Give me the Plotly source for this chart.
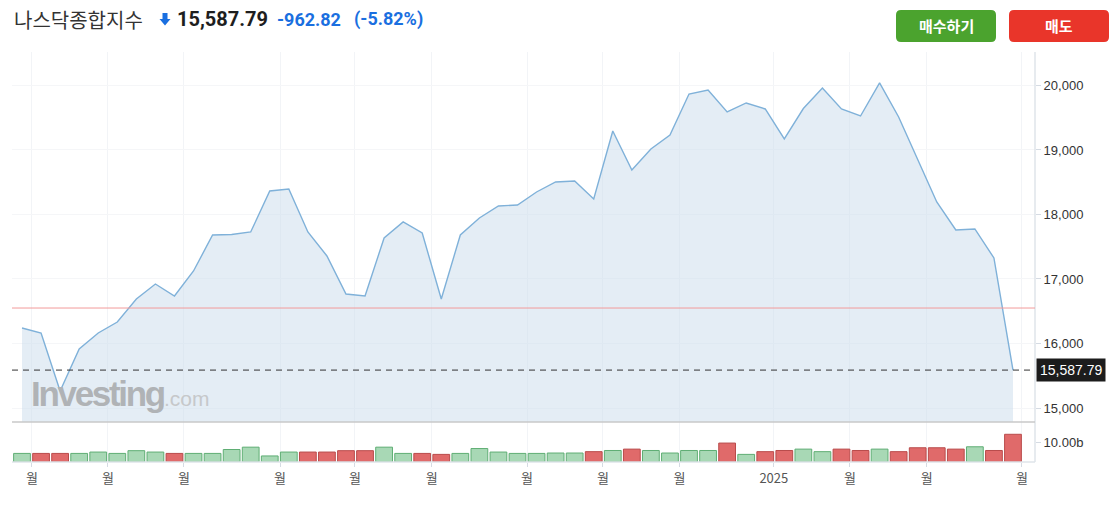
import plotly.graph_objects as go

# ---------------- data ----------------
week_index = list(range(53))
close = [16240, 16163, 15263, 15915, 16163, 16333, 16690, 16922, 16736, 17124,
         17682, 17690, 17729, 18364, 18395, 17729, 17357, 16767, 16736, 17636,
         17884, 17713, 16690, 17682, 17946, 18132, 18147, 18349, 18504, 18520,
         18240, 19295, 18690, 19016, 19233, 19868, 19930, 19589, 19729, 19636,
         19171, 19643, 19961, 19636, 19527, 20039, 19512, 18845, 18194, 17760,
         17776, 17326, 15587.79]
volume_b = [4.4, 4.4, 4.4, 4.4, 5.1, 4.4, 5.8, 5.1, 4.4, 4.4,
            4.4, 6.4, 7.6, 3.1, 5.1, 5.1, 5.1, 5.8, 5.8, 7.6,
            4.4, 4.4, 3.9, 4.4, 6.9, 5.1, 4.4, 4.4, 4.6, 4.6,
            5.3, 5.9, 6.6, 5.9, 4.6, 5.9, 5.9, 9.7, 3.9, 5.3,
            5.9, 6.6, 5.3, 6.6, 5.9, 6.6, 5.3, 7.3, 7.3, 6.6,
            7.8, 5.9, 14.2]
price_ticks = [15000, 16000, 17000, 18000, 19000, 20000]
price_tick_text = ["15,000", "16,000", "17,000", "18,000", "19,000", "20,000"]
month_tick_pos = [0.52, 4.51, 8.5, 13.54, 17.47, 21.5, 26.5, 30.48, 34.5, 39.45, 43.44, 47.48, 52.47]
month_tick_text = ["월", "월", "월", "월", "월", "월", "월", "월", "월", "2025", "월", "월", "월"]
reference_level = 16550
last_price = 15587.79
title_name = "나스닥종합지수"
title_price = "15,587.79"
title_change = "-962.82"
title_change_pct = "(-5.82%)"

# ---------------- geometry (screen pixels; body margin is removed below) ----------------
W, H = 1117, 510
L, R, T, B = 12, 1035, 52, 462          # plot area in screen pixels
PW, PH = R - L, B - T


def fx(px):
    return (px - L) / PW


def fy(py):
    return (B - py) / PH


sep_frac = fy(422)

up_fill, up_line = "#a8d8b5", "#5fae74"
dn_fill, dn_line = "#e06a6a", "#b94b4b"
fills, lines = [], []
for i, v in enumerate(close):
    up = i == 0 or v >= close[i - 1]
    fills.append(up_fill if up else dn_fill)
    lines.append(up_line if up else dn_line)

fig = go.Figure()
fig.add_trace(go.Scatter(
    x=week_index, y=close, mode="lines",
    line=dict(color="#7fb1d9", width=1.4),
    fill="tozeroy", fillcolor="rgba(201,219,235,0.5)",
    hoverinfo="skip", xaxis="x", yaxis="y"))
fig.add_trace(go.Bar(
    x=week_index, y=volume_b,
    marker=dict(color=fills, line=dict(color=lines, width=1)),
    hoverinfo="skip", xaxis="x", yaxis="y2"))

grid = "#f2f4f7"
fig.update_layout(
    width=W, height=H,
    margin=dict(l=L, r=W - R, t=T, b=H - B),
    paper_bgcolor="white", plot_bgcolor="white",
    showlegend=False, bargap=0.12,
    xaxis=dict(range=[-0.525, 53.155], anchor="y2",
               tickmode="array", tickvals=month_tick_pos, ticktext=month_tick_text,
               showgrid=True, gridcolor=grid, gridwidth=1,
               ticks="outside", ticklen=4, tickcolor="#d5dbe3",
               showline=False, zeroline=False,
               tickfont=dict(family="Noto Sans CJK KR", size=13, color="#555")),
    yaxis=dict(domain=[sep_frac, 1], range=[14783, 20519], side="right",
               tickmode="array", tickvals=price_ticks, ticktext=price_tick_text,
               showgrid=True, gridcolor="#f5f6f8", zeroline=False,
               ticks="outside", ticklen=5, tickcolor="#d5dbe3",
               tickfont=dict(family="Liberation Sans", size=13, color="#333")),
    yaxis2=dict(domain=[0, sep_frac], range=[0, 20.5], side="right",
                tickmode="array", tickvals=[10], ticktext=["10.00b"],
                showgrid=False, zeroline=False,
                ticks="outside", ticklen=5, tickcolor="#d5dbe3",
                tickfont=dict(family="Liberation Sans", size=13, color="#333")),
)

shapes = []
shapes.append(dict(type="line", xref="paper", yref="paper", x0=1, x1=1, y0=0, y1=1,
                   line=dict(color="#dfe4ea", width=1.5)))
shapes.append(dict(type="line", xref="paper", yref="paper", x0=0, x1=1, y0=0, y1=0,
                   line=dict(color="#dfe4ea", width=1.5)))
shapes.append(dict(type="line", xref="paper", yref="paper", x0=0, x1=1, y0=sep_frac, y1=sep_frac,
                   line=dict(color="#c9c9c9", width=1.5)))
shapes.append(dict(type="line", xref="paper", yref="y", x0=0, x1=1,
                   y0=reference_level, y1=reference_level,
                   line=dict(color="#f29a9a", width=1)))
shapes.append(dict(type="line", xref="paper", yref="y", x0=0, x1=1,
                   y0=last_price, y1=last_price,
                   line=dict(color="#333333", width=1, dash="6px,5px")))


def rounded(x0, y0, x1, y1, r):
    a, b_, c, d = fx(x0), fx(x1), fy(y0), fy(y1)
    rx, ry = r / PW, r / PH
    return (f"M {a+rx},{c} L {b_-rx},{c} Q {b_},{c} {b_},{c-ry} "
            f"L {b_},{d+ry} Q {b_},{d} {b_-rx},{d} L {a+rx},{d} "
            f"Q {a},{d} {a},{d+ry} L {a},{c-ry} Q {a},{c} {a+rx},{c} Z")


shapes.append(dict(type="path", xref="paper", yref="paper",
                   path=rounded(896, 10, 996, 42, 5),
                   fillcolor="#4ba32e", line=dict(width=0)))
shapes.append(dict(type="path", xref="paper", yref="paper",
                   path=rounded(1009, 10, 1109, 42, 5),
                   fillcolor="#e9352a", line=dict(width=0)))
arrow = (f"M {fx(162.5)},{fy(13)} L {fx(167.5)},{fy(13)} L {fx(167.5)},{fy(19)} "
         f"L {fx(170.5)},{fy(19)} L {fx(165)},{fy(25.5)} L {fx(159.5)},{fy(19)} "
         f"L {fx(162.5)},{fy(19)} Z")
shapes.append(dict(type="path", xref="paper", yref="paper", path=arrow,
                   fillcolor="#1a6fe0", line=dict(width=0)))
fig.update_layout(shapes=shapes)

ann = []
ann.append(dict(xref="paper", yref="paper", x=fx(12), y=fy(19.5), xanchor="left", yanchor="middle",
                text=title_name, showarrow=False,
                font=dict(family="Noto Sans CJK KR", size=20, color="#333")))
ann.append(dict(xref="paper", yref="paper", x=fx(175), y=fy(19.5), xanchor="left", yanchor="middle",
                text="<b>" + title_price + "</b>", showarrow=False,
                font=dict(family="Roboto", size=20, color="#1e1e1e")))
ann.append(dict(xref="paper", yref="paper", x=fx(275), y=fy(19.5), xanchor="left", yanchor="middle",
                text="<b>" + title_change + "</b>", showarrow=False,
                font=dict(family="Roboto", size=18, color="#1a6fe0")))
ann.append(dict(xref="paper", yref="paper", x=fx(352), y=fy(19.5), xanchor="left", yanchor="middle",
                text="<b>" + title_change_pct + "</b>", showarrow=False,
                font=dict(family="Roboto", size=18, color="#1a6fe0")))
ann.append(dict(xref="paper", yref="paper", x=fx(946), y=fy(26), xanchor="center", yanchor="middle",
                text="<b>매수하기</b>", showarrow=False,
                font=dict(family="Noto Sans CJK KR", size=15, color="white")))
ann.append(dict(xref="paper", yref="paper", x=fx(1059), y=fy(26), xanchor="center", yanchor="middle",
                text="<b>매도</b>", showarrow=False,
                font=dict(family="Noto Sans CJK KR", size=15, color="white")))
ann.append(dict(xref="paper", yref="y", x=1.0, y=last_price, xanchor="left", yanchor="middle",
                text=f"{last_price:,.2f}", showarrow=False, bgcolor="#1c1c1c",
                borderpad=3, xshift=1,
                font=dict(family="Liberation Sans", size=14, color="white")))
ann.append(dict(xref="paper", yref="paper", x=fx(29), y=fy(393), xanchor="left", yanchor="middle",
                text=("<span style='letter-spacing:-2.3px'><b>Investing</b></span>"
                      "<span style='color:#c6c8ca;font-size:21px;font-weight:normal'>.com</span>"),
                showarrow=False,
                font=dict(family="Liberation Sans", size=35, color="#b0b3b6")))
fig.update_layout(annotations=ann)

fig.write_html("out.html",
               config={"displayModeBar": False, "staticPlot": True},
               post_script="document.body.style.margin='0';document.body.style.overflow='hidden';")
